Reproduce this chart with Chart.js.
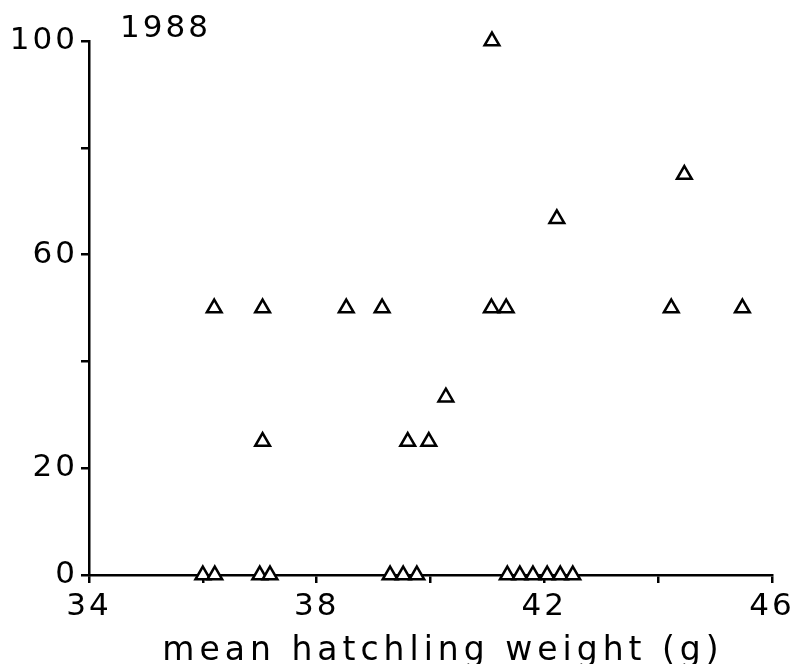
<!DOCTYPE html>
<html>
<head>
<meta charset="utf-8">
<script src="https://cdn.jsdelivr.net/npm/chart.js@4/dist/chart.umd.min.js"></script>
<style>
  html, body { margin: 0; padding: 0; background: #fff; }
  #wrap { width: 802px; height: 664px; }
</style>
</head>
<body>
<div id="wrap"><canvas id="hatchChart" width="802" height="664"></canvas></div>
<script>
'use strict';

// Mean hatchling weight (g) vs percentage, 1988
const weights = [
    36.2, 37.05, 37.05, 38.52, 39.15, 39.6, 39.97, 40.27,
    41.07, 41.33, 41.08, 42.22, 44.23, 44.46, 45.48,
    36.0, 36.21, 37.0, 37.18, 39.29, 39.52, 39.76,
    41.35, 41.57, 41.8, 42.05, 42.28, 42.5
];
const percents = [
    50, 50, 25, 50, 50, 25, 25, 33.3,
    50, 50, 100, 66.7, 50, 75, 50,
    0, 0, 0, 0, 0, 0, 0,
    0, 0, 0, 0, 0, 0
];
const xLabelled = [34, 38, 42, 46];
const yLabelled = [0, 20, 60, 100];
const yearLabel = '1988';
const xTitle = 'mean hatchling weight (g)';

const FONT = 'DejaVu Sans';

// The old figure uses a wide, spaced typeface: widen all text a bit,
// and draw the year label and the x title by hand
const textPlugin = {
    id: 'spacedText',
    beforeDraw(chart) {
        chart.ctx.letterSpacing = '3px';
    },
    afterDraw(chart) {
        const c = chart.ctx;
        c.save();
        c.fillStyle = '#000';
        c.textBaseline = 'alphabetic';

        c.letterSpacing = '3px';
        c.font = '500 31px "' + FONT + '"';
        c.textAlign = 'left';
        c.fillText(yearLabel, 120, 37);

        c.letterSpacing = '5px';
        c.font = '33px "' + FONT + '"';
        c.textAlign = 'center';
        c.fillText(xTitle, 443, 660);
        c.restore();
        c.letterSpacing = '0px';
    }
};

const points = weights.map((w, i) => ({ x: w, y: percents[i] }));

const ctx = document.getElementById('hatchChart').getContext('2d');
const hatchChart = new Chart(ctx, {
    type: 'scatter',
    data: {
        datasets: [{
            data: points,
            pointStyle: 'triangle',
            pointRadius: 8.5,
            pointHoverRadius: 8.5,
            pointBorderWidth: 2.5,
            pointBorderColor: '#000',
            pointBackgroundColor: '#fff',
            clip: false
        }]
    },
    options: {
        responsive: false,
        animation: false,
        layout: { padding: { top: 41, right: 30, left: 0, bottom: 0 } },
        plugins: {
            legend: { display: false },
            tooltip: { enabled: false }
        },
        scales: {
            x: {
                type: 'linear',
                min: 34,
                max: 46,
                afterFit: (scale) => { scale.height = 89; },
                ticks: {
                    stepSize: 2,
                    autoSkip: false,
                    maxRotation: 0,
                    color: '#000',
                    padding: 5,
                    font: { family: FONT, size: 31 },
                    callback: (v) => xLabelled.includes(v) ? String(v) : ''
                },
                grid: { drawOnChartArea: false, drawTicks: true, tickLength: 8, color: '#000', lineWidth: 2.5 },
                border: { color: '#000', width: 2.5 },
                title: { display: false }
            },
            y: {
                type: 'linear',
                min: 0,
                max: 100,
                afterFit: (scale) => { scale.width = 89; },
                ticks: {
                    stepSize: 20,
                    autoSkip: false,
                    color: '#000',
                    padding: 3,
                    font: { family: FONT, size: 31 },
                    callback: (v) => yLabelled.includes(v) ? String(v) : ''
                },
                grid: { drawOnChartArea: false, drawTicks: true, tickLength: 8, color: '#000', lineWidth: 2.5 },
                border: { color: '#000', width: 2.5 }
            }
        }
    },
    plugins: [textPlugin]
});
</script>
</body>
</html>
